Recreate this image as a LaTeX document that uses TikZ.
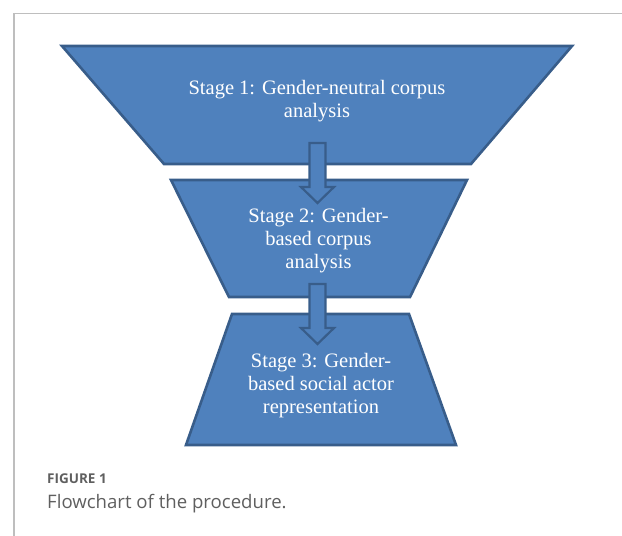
\documentclass[tikz,border=0pt]{standalone}
\usepackage{fontspec}
\setmainfont{Liberation Serif}
\newfontfamily\capfont{Open Sans}
\definecolor{stageblue}{RGB}{79,129,189}
\definecolor{stageedge}{RGB}{56,93,138}
\definecolor{framegrey}{RGB}{190,190,190}
\definecolor{capgrey}{RGB}{95,95,95}
\begin{document}
\begin{tikzpicture}[x=1pt,y=-1pt]
		\tikzstyle{stage}=[fill=stageblue,draw=stageedge,line width=2.6pt]
		\tikzstyle{stagearrow}=[stage,line width=2.2pt]
		\tikzstyle{stagetext}=[text=white,align=center,inner sep=0pt,font=\fontsize{20.5}{23}\selectfont]
		\tikzstyle{captext}=[text=capgrey,anchor=base west,inner sep=0pt]
		\useasboundingbox (0,0) rectangle (622,536);
		\draw [framegrey,line width=1.2pt] (622,13.5) -- (14,13.5) -- (14,536);
		% the three stages
		\draw [stage] (62,46) -- (572,46) -- (471,164) -- (164,164) -- cycle;
		\draw [stage] (171,180) -- (467,180) -- (410,297) -- (229,297) -- cycle;
		\draw [stage] (232,314) -- (409,314) -- (456,445) -- (186,445) -- cycle;
		% arrows between them
		\foreach \t in {143,284}
			\draw [stagearrow] (309.5,\t) -- (325.5,\t) -- (325.5,{\t+44}) -- (334,{\t+44})
				-- (317.5,{\t+60}) -- (301,{\t+44}) -- (309.5,{\t+44}) -- cycle;
		\node [stagetext] (stage1) at (317,101) {Stage 1: Gender-neutral corpus\\analysis};
		\node [stagetext] (stage2) at (318.5,241) {Stage 2: Gender-\\based corpus\\analysis};
		\node [stagetext] (stage3) at (321,386) {Stage 3: Gender-\\based social actor\\representation};
		% caption
		\node [captext,font=\capfont\bfseries\fontsize{13.5}{16}\selectfont] (fignum) at (47,483) {FIGURE 1};
		\node [captext,font=\capfont\fontsize{18.6}{21}\selectfont] (figcap) at (47,508) {Flowchart of the procedure.};
\end{tikzpicture}
\end{document}
